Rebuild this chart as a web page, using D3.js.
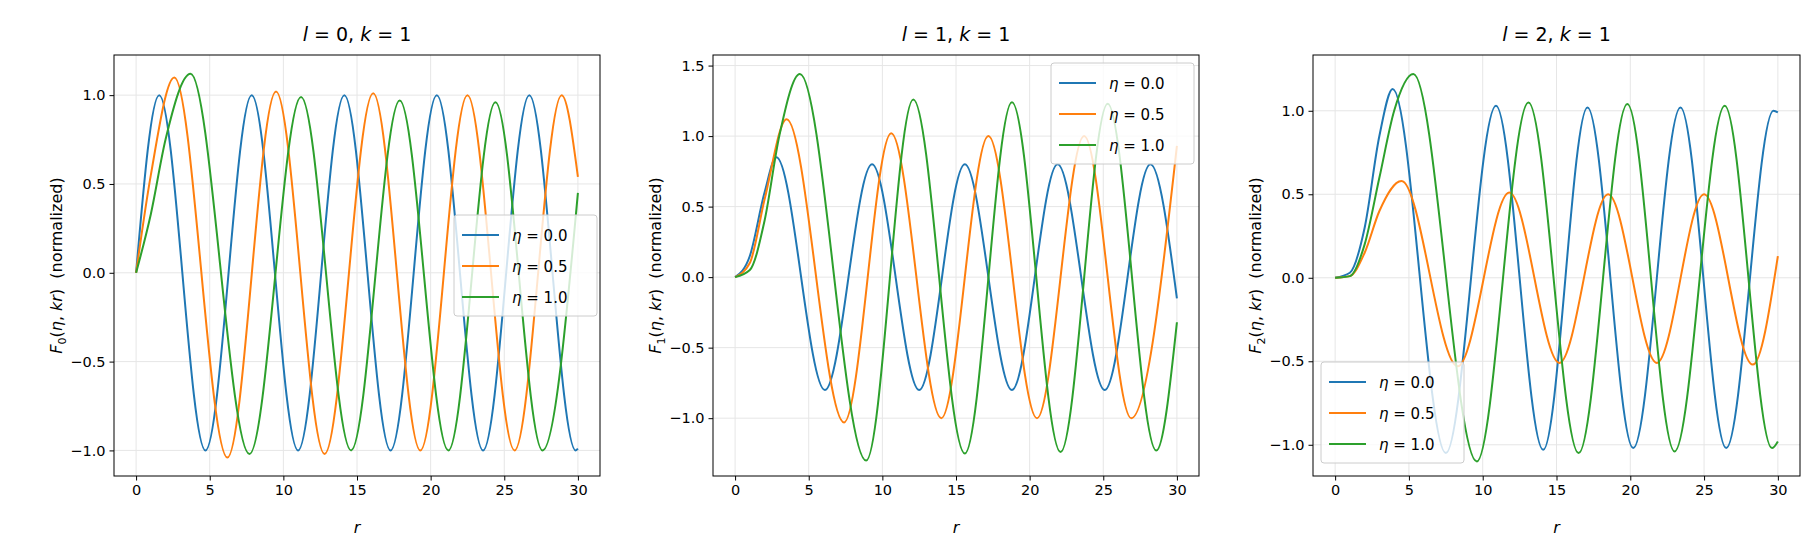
<!DOCTYPE html>
<html>
<head>
<meta charset="utf-8">
<script src="https://cdn.jsdelivr.net/npm/d3@7"></script>
<style>
  body { margin: 0; background: #fff; }
  text { font-family: "DejaVu Sans", sans-serif; }
</style>
</head>
<body>
<div id="chart"></div>
<script>
// data: [r, value] at start, extrema and end
const l0_eta00 = [[0,0],[1.57,1],[4.71,-1],[7.85,1],[11.0,-1],[14.14,1],[17.28,-1],[20.42,1],[23.56,-1],[26.7,1],[29.85,-1],[30,-0.99]]
const l0_eta05 = [[0,0],[1,0.55],[2.6,1.1],[6.2,-1.04],[9.5,1.02],[12.8,-1.02],[16.1,1.01],[19.3,-1.0],[22.5,1.0],[25.7,-1.0],[28.9,1.0],[30,0.54]]
const l0_eta10 = [[0,0],[1,0.33],[2,0.75],[3.7,1.12],[7.7,-1.02],[11.2,0.99],[14.6,-1.0],[17.9,0.97],[21.2,-1.0],[24.4,0.96],[27.6,-1.0],[30,0.45]]

const l1_eta00 = [[0,0],[1,0.15],[2,0.6],[2.8,0.85],[6.1,-0.8],[9.3,0.8],[12.5,-0.8],[15.6,0.8],[18.8,-0.8],[21.9,0.8],[25.1,-0.8],[28.2,0.8],[30,-0.15]]
const l1_eta05 = [[0,0],[1,0.1],[2,0.55],[3.5,1.12],[7.4,-1.03],[10.6,1.02],[14.0,-1.0],[17.2,1.0],[20.5,-1.0],[23.7,1.0],[26.9,-1.0],[30,0.93]]
const l1_eta10 = [[0,0],[1,0.05],[2,0.4],[3,1.0],[4.4,1.44],[8.9,-1.3],[12.1,1.26],[15.6,-1.25],[18.8,1.24],[22.1,-1.24],[25.3,1.23],[28.6,-1.23],[30,-0.32]]

const l2_eta00 = [[0,0],[1,0.03],[2,0.3],[3,0.85],[3.9,1.13],[7.5,-1.05],[10.9,1.03],[14.1,-1.03],[17.1,1.02],[20.2,-1.02],[23.4,1.02],[26.5,-1.02],[29.7,1.0],[30,0.99]]
const l2_eta05 = [[0,0],[1,0.01],[2,0.15],[3,0.4],[4.5,0.58],[8.3,-0.53],[11.8,0.51],[15.2,-0.51],[18.5,0.5],[21.8,-0.51],[25.0,0.5],[28.3,-0.52],[30,0.13]]
const l2_eta10 = [[0,0],[1,0.01],[2,0.2],[3,0.6],[4,1.0],[5.3,1.22],[9.6,-1.1],[13.1,1.05],[16.5,-1.05],[19.8,1.04],[23.0,-1.04],[26.4,1.03],[29.6,-1.02],[30,-0.98]]

const etaLabels = ["0.0", "0.5", "1.0"]
const colors = ["#1f77b4", "#ff7f0e", "#2ca02c"]
const xTicks = [0, 5, 10, 15, 20, 25, 30]

const panels = [
  { l: 0, series: [l0_eta00, l0_eta05, l0_eta10], yDomain: [-1.144, 1.226], yTicks: [-1, -0.5, 0, 0.5, 1],
    left: 114, right: 600, legend: [454, 215] },
  { l: 1, series: [l1_eta00, l1_eta05, l1_eta10], yDomain: [-1.41, 1.575], yTicks: [-1, -0.5, 0, 0.5, 1, 1.5],
    left: 713, right: 1199, legend: [1051, 63] },
  { l: 2, series: [l2_eta00, l2_eta05, l2_eta10], yDomain: [-1.187, 1.334], yTicks: [-1, -0.5, 0, 0.5, 1],
    left: 1313, right: 1800, legend: [1321, 362] },
]

const width = 1820
const height = 560
const plotTop = 55
const plotBottom = 476

const svg = d3.select("#chart").append("svg")
    .attr("width", width)
    .attr("height", height)

panels.forEach(p => {
  const xScale = d3.scaleLinear().domain([-1.5, 31.5]).range([p.left, p.right])
  const yScale = d3.scaleLinear().domain(p.yDomain).range([plotBottom, plotTop])
  const g = svg.append("g")

  // grid
  g.selectAll(".gx").data(xTicks).join("line")
      .attr("x1", d => xScale(d)).attr("x2", d => xScale(d))
      .attr("y1", plotTop).attr("y2", plotBottom)
      .attr("stroke", "#e6e6e6").attr("stroke-width", 1)
  g.selectAll(".gy").data(p.yTicks).join("line")
      .attr("y1", d => yScale(d)).attr("y2", d => yScale(d))
      .attr("x1", p.left).attr("x2", p.right)
      .attr("stroke", "#e6e6e6").attr("stroke-width", 1)

  // curves
  const line = d3.line()
      .x(d => xScale(d[0]))
      .y(d => yScale(d[1]))
      .curve(d3.curveMonotoneX)
  p.series.forEach((s, i) => {
    g.append("path")
        .datum(s)
        .attr("d", line)
        .attr("fill", "none")
        .attr("stroke", colors[i])
        .attr("stroke-width", 2)
  })

  // axes
  const xAxis = g.append("g")
      .attr("transform", `translate(0,${plotBottom})`)
      .call(d3.axisBottom(xScale).tickValues(xTicks).tickSize(4.5).tickPadding(4))
  const yAxis = g.append("g")
      .attr("transform", `translate(${p.left},0)`)
      .call(d3.axisLeft(yScale).tickValues(p.yTicks).tickSize(4.5).tickPadding(4)
        .tickFormat(d => d3.format(".1f")(d).replace("-", "\u2212")))
  ;[xAxis, yAxis].forEach(a => {
    a.select(".domain").remove()
    a.selectAll("text").style("font-size", "14.5px").attr("fill", "#000")
    a.selectAll("line").attr("stroke", "#000")
  })
  g.append("rect")
      .attr("x", p.left).attr("y", plotTop)
      .attr("width", p.right - p.left).attr("height", plotBottom - plotTop)
      .attr("fill", "none").attr("stroke", "#000").attr("stroke-width", 1)

  // title
  const title = g.append("text")
      .attr("x", (p.left + p.right) / 2).attr("y", 41)
      .attr("text-anchor", "middle")
      .style("font-size", "19px")
  title.append("tspan").attr("font-style", "italic").text("l")
  title.append("tspan").text(` = ${p.l}, `)
  title.append("tspan").attr("font-style", "italic").text("k")
  title.append("tspan").text(" = 1")

  // x label
  g.append("text")
      .attr("x", (p.left + p.right) / 2).attr("y", 533)
      .attr("text-anchor", "middle")
      .attr("font-style", "italic")
      .style("font-size", "16px")
      .text("r")

  // y label
  const yl = g.append("text")
      .attr("transform", `translate(${p.left - 52},${(plotTop + plotBottom) / 2}) rotate(-90)`)
      .attr("text-anchor", "middle")
      .style("font-size", "16px")
  yl.append("tspan").attr("font-style", "italic").text("F")
  yl.append("tspan").attr("font-size", "11px").attr("dy", 4).text(p.l)
  yl.append("tspan").attr("dy", -4).text("(")
  yl.append("tspan").attr("font-style", "italic").text("η")
  yl.append("tspan").text(", ")
  yl.append("tspan").attr("font-style", "italic").text("kr")
  yl.append("tspan").text(")\u00a0\u00a0(normalized)")

  // legend
  const [lx, ly] = p.legend
  const lg = g.append("g").attr("transform", `translate(${lx},${ly})`)
  lg.append("rect")
      .attr("width", 143).attr("height", 101).attr("rx", 3)
      .attr("fill", "#fff").attr("fill-opacity", 0.8)
      .attr("stroke", "#ccc")
  etaLabels.forEach((e, i) => {
    const yy = 20 + i * 31
    lg.append("line")
        .attr("x1", 8).attr("x2", 45).attr("y1", yy).attr("y2", yy)
        .attr("stroke", colors[i]).attr("stroke-width", 2)
    const t = lg.append("text").attr("x", 58).attr("y", yy + 6).style("font-size", "15px")
    t.append("tspan").attr("font-style", "italic").text("η")
    t.append("tspan").text(` = ${e}`)
  })
})
</script>
</body>
</html>
